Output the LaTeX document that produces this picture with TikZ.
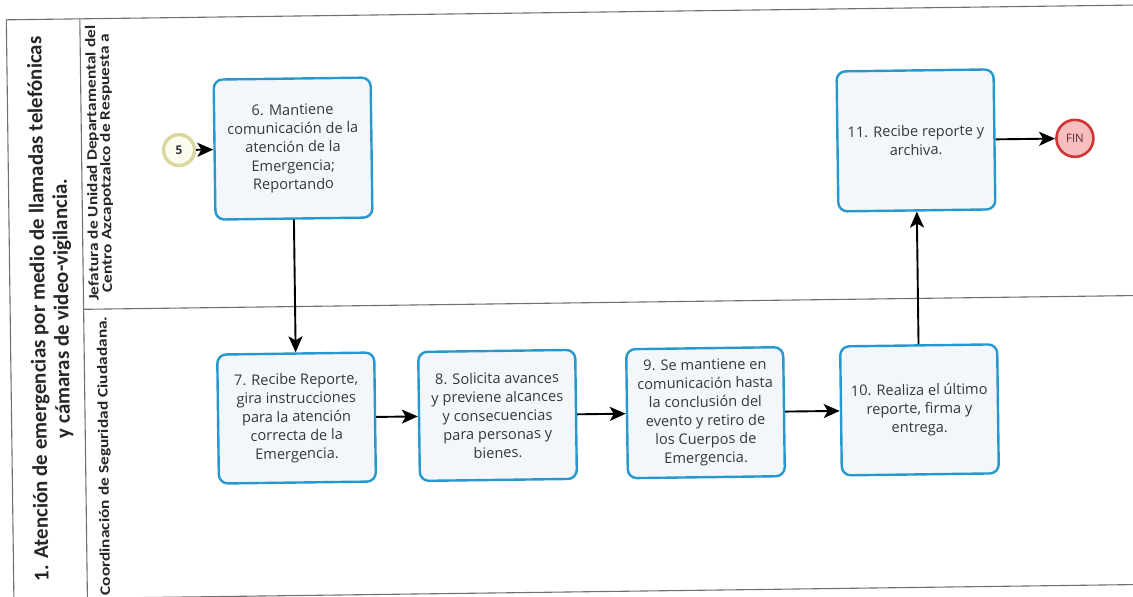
\documentclass[tikz,border=0pt]{standalone}
\usepackage{fontspec}
\usepackage{graphicx}
\setmainfont{Open Sans}
\newfontfamily\headfont{Carlito}
\usetikzlibrary{arrows.meta}
\definecolor{taskline}{RGB}{38,152,206}
\definecolor{taskfill}{RGB}{243,246,250}
\definecolor{textgrey}{RGB}{52,56,62}
\definecolor{poolgrey}{RGB}{110,112,112}
\definecolor{startline}{RGB}{218,214,158}
\definecolor{startfill}{RGB}{252,252,238}
\definecolor{endline}{RGB}{208,52,52}
\definecolor{endfill}{RGB}{246,190,190}
% widened line for the lane headers
\newcommand{\wideline}[1]{\scalebox{1.2}[1]{#1}}
\begin{document}
\begin{tikzpicture}[x=1pt,y=-1pt,
  task/.style={draw=taskline, line width=2.4pt, fill=taskfill, rounded corners=9pt,
    minimum width=157pt, align=center, inner sep=0pt, text=textgrey,
    font=\fontsize{14.6}{18.6}\selectfont},
  uptask/.style={task, minimum height=140pt},
  lowtask/.style={task, minimum height=129pt},
  startev/.style={circle, draw=startline, line width=3.4pt, fill=startfill, minimum size=31pt,
    inner sep=0pt, text=textgrey, font=\bfseries\fontsize{12}{14}\selectfont},
  endev/.style={circle, draw=endline, line width=2.6pt, fill=endfill, minimum size=37pt,
    inner sep=0pt, text=textgrey!80!red, font=\fontsize{11.5}{13}\selectfont},
  flow/.style={-{Stealth[length=16pt,width=14pt,inset=4pt]}, line width=1.9pt},
  poolrule/.style={draw=poolgrey, line width=1.1pt},
  lanehead/.style={rotate=90, align=center, text=black!85,
    font=\headfont\bfseries\fontsize{14.5}{13.5}\selectfont}]
\useasboundingbox (0,0) rectangle (1133,597);
\clip (0,0) rectangle (1133,597);
\begin{scope}[rotate around={0.75:(566,298)}, every node/.append style={transform shape}]
  % pool frame, title band and lane divider
  \draw[poolrule] (1150,12.5) -- (10,12.5) -- (10,592) -- (1150,592);
  \draw[poolrule] (83.5,12.5) -- (83.5,592);
  \draw[poolrule] (83.5,303) -- (1150,303);

  % pool title
  \node[rotate=90, align=center, text=black!85,
        font=\headfont\bfseries\fontsize{21}{23.5}\selectfont] (title) at (51,302)
    {1. Atención de emergencias por medio de llamadas telefónicas\\
     y cámaras de video-vigilancia.};

  % lane headers
  \node[lanehead] (lane1) at (101.5,157)
    {\wideline{Jefatura de Unidad Departamental del}\\
     \wideline{Centro Azcapotzalco de Respuesta a}};
  \node[lanehead] (lane2) at (102.5,450) {\wideline{Coordinación de Seguridad Ciudadana.}};

  % upper lane
  \node[startev] (s5) at (181,145) {5};
  \node[uptask] (t6) at (295,145)
    {6. Mantiene\\comunicación de la\\atención de la\\Emergencia;\\Reportando};
  \node[uptask] (t11) at (918,145) {11. Recibe reporte y\\archiva.};
  \node[endev] (fin) at (1077,145) {FIN};

  % lower lane
  \node[lowtask] (t7) at (295,414.5)
    {7. Recibe Reporte,\\gira instrucciones\\para la atención\\correcta de la\\Emergencia.};
  \node[lowtask] (t8) at (496,414.5)
    {8. Solicita avances\\y previene alcances\\y consecuencias\\para personas y\\bienes.};
  \node[lowtask] (t9) at (704,414.5)
    {9. Se mantiene en\\comunicación hasta\\la conclusión del\\evento y retiro de\\los Cuerpos de\\Emergencia.};
  \node[lowtask] (t10) at (918,414.5)
    {10. Realiza el último\\reporte, firma y\\entrega.};

  % sequence flows
  \draw[flow] (s5) -- (t6);
  \draw[flow] (t6) -- (t7);
  \draw[flow] (t7) -- (t8);
  \draw[flow] (t8) -- (t9);
  \draw[flow] (t9) -- (t10);
  \draw[flow] (t10) -- (t11);
  \draw[flow] (t11) -- (fin);
\end{scope}
\end{tikzpicture}
\end{document}
